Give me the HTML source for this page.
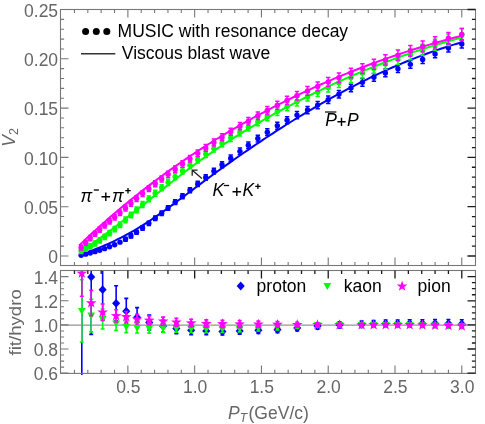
<!DOCTYPE html>
<html><head><meta charset="utf-8"><title>v2 chart</title>
<style>html,body{margin:0;padding:0;background:#fff;}body{width:485px;height:424px;overflow:hidden;position:relative;font-family:"Liberation Sans",sans-serif;}</style>
</head><body>
<svg width="485" height="424" viewBox="0 0 485 424" style="position:absolute;left:0;top:0;filter:blur(0.4px)">
<rect width="485" height="424" fill="#fff"/>
<defs><clipPath id="c1"><rect x="60.5" y="9.5" width="415.0" height="256.0"/></clipPath><clipPath id="c2"><rect x="60.5" y="270.0" width="415.0" height="104.89999999999998"/></clipPath></defs>
<g clip-path="url(#c1)">
<circle cx="81.13" cy="255.30" r="2.7" fill="#0000ff"/>
<circle cx="85.68" cy="254.17" r="2.7" fill="#0000ff"/>
<circle cx="90.28" cy="252.98" r="2.7" fill="#0000ff"/>
<circle cx="95.02" cy="251.67" r="2.7" fill="#0000ff"/>
<circle cx="99.70" cy="250.27" r="2.7" fill="#0000ff"/>
<circle cx="104.64" cy="248.63" r="2.7" fill="#0000ff"/>
<circle cx="109.58" cy="246.80" r="2.7" fill="#0000ff"/>
<circle cx="114.66" cy="244.69" r="2.7" fill="#0000ff"/>
<circle cx="120.00" cy="242.16" r="2.7" fill="#0000ff"/>
<path d="M125.48 237.20V241.21M123.28 237.20h4.40M123.28 241.21h4.40" stroke="#0000ff" stroke-width="1.5" fill="none"/>
<circle cx="125.48" cy="239.20" r="2.7" fill="#0000ff"/>
<path d="M130.95 233.87V237.96M128.75 233.87h4.40M128.75 237.96h4.40" stroke="#0000ff" stroke-width="1.5" fill="none"/>
<circle cx="130.95" cy="235.91" r="2.7" fill="#0000ff"/>
<path d="M136.56 230.15V234.32M134.36 230.15h4.40M134.36 234.32h4.40" stroke="#0000ff" stroke-width="1.5" fill="none"/>
<circle cx="136.56" cy="232.23" r="2.7" fill="#0000ff"/>
<path d="M142.57 225.87V230.13M140.37 225.87h4.40M140.37 230.13h4.40" stroke="#0000ff" stroke-width="1.5" fill="none"/>
<circle cx="142.57" cy="228.00" r="2.7" fill="#0000ff"/>
<path d="M148.85 221.14V225.49M146.65 221.14h4.40M146.65 225.49h4.40" stroke="#0000ff" stroke-width="1.5" fill="none"/>
<circle cx="148.85" cy="223.31" r="2.7" fill="#0000ff"/>
<path d="M155.26 216.09V220.54M153.06 216.09h4.40M153.06 220.54h4.40" stroke="#0000ff" stroke-width="1.5" fill="none"/>
<circle cx="155.26" cy="218.32" r="2.7" fill="#0000ff"/>
<path d="M161.67 210.90V215.45M159.47 210.90h4.40M159.47 215.45h4.40" stroke="#0000ff" stroke-width="1.5" fill="none"/>
<circle cx="161.67" cy="213.17" r="2.7" fill="#0000ff"/>
<path d="M168.08 205.64V210.28M165.88 205.64h4.40M165.88 210.28h4.40" stroke="#0000ff" stroke-width="1.5" fill="none"/>
<circle cx="168.08" cy="207.96" r="2.7" fill="#0000ff"/>
<path d="M175.16 199.81V204.55M172.96 199.81h4.40M172.96 204.55h4.40" stroke="#0000ff" stroke-width="1.5" fill="none"/>
<circle cx="175.16" cy="202.18" r="2.7" fill="#0000ff"/>
<path d="M182.51 193.78V198.63M180.31 193.78h4.40M180.31 198.63h4.40" stroke="#0000ff" stroke-width="1.5" fill="none"/>
<circle cx="182.51" cy="196.21" r="2.7" fill="#0000ff"/>
<path d="M189.99 187.65V192.65M187.79 187.65h4.40M187.79 192.65h4.40" stroke="#0000ff" stroke-width="1.5" fill="none"/>
<circle cx="189.99" cy="190.15" r="2.7" fill="#0000ff"/>
<path d="M197.73 181.29V186.55M195.53 181.29h4.40M195.53 186.55h4.40" stroke="#0000ff" stroke-width="1.5" fill="none"/>
<circle cx="197.73" cy="183.92" r="2.7" fill="#0000ff"/>
<path d="M205.75 174.77V180.30M203.55 174.77h4.40M203.55 180.30h4.40" stroke="#0000ff" stroke-width="1.5" fill="none"/>
<circle cx="205.75" cy="177.53" r="2.7" fill="#0000ff"/>
<path d="M213.89 168.22V174.02M211.69 168.22h4.40M211.69 174.02h4.40" stroke="#0000ff" stroke-width="1.5" fill="none"/>
<circle cx="213.89" cy="171.12" r="2.7" fill="#0000ff"/>
<path d="M222.04 161.76V167.84M219.84 161.76h4.40M219.84 167.84h4.40" stroke="#0000ff" stroke-width="1.5" fill="none"/>
<circle cx="222.04" cy="164.80" r="2.7" fill="#0000ff"/>
<path d="M230.72 155.00V161.37M228.52 155.00h4.40M228.52 161.37h4.40" stroke="#0000ff" stroke-width="1.5" fill="none"/>
<circle cx="230.72" cy="158.19" r="2.7" fill="#0000ff"/>
<path d="M239.94 148.04V154.61M237.74 148.04h4.40M237.74 154.61h4.40" stroke="#0000ff" stroke-width="1.5" fill="none"/>
<circle cx="239.94" cy="151.33" r="2.7" fill="#0000ff"/>
<path d="M248.35 141.90V148.55M246.15 141.90h4.40M246.15 148.55h4.40" stroke="#0000ff" stroke-width="1.5" fill="none"/>
<circle cx="248.35" cy="145.22" r="2.7" fill="#0000ff"/>
<path d="M257.83 135.18V141.93M255.63 135.18h4.40M255.63 141.93h4.40" stroke="#0000ff" stroke-width="1.5" fill="none"/>
<circle cx="257.83" cy="138.56" r="2.7" fill="#0000ff"/>
<path d="M267.32 128.73V135.58M265.12 128.73h4.40M265.12 135.58h4.40" stroke="#0000ff" stroke-width="1.5" fill="none"/>
<circle cx="267.32" cy="132.15" r="2.7" fill="#0000ff"/>
<path d="M277.33 122.33V129.28M275.13 122.33h4.40M275.13 129.28h4.40" stroke="#0000ff" stroke-width="1.5" fill="none"/>
<circle cx="277.33" cy="125.81" r="2.7" fill="#0000ff"/>
<path d="M287.08 116.66V123.72M284.88 116.66h4.40M284.88 123.72h4.40" stroke="#0000ff" stroke-width="1.5" fill="none"/>
<circle cx="287.08" cy="120.19" r="2.7" fill="#0000ff"/>
<path d="M296.97 111.54V118.70M294.77 111.54h4.40M294.77 118.70h4.40" stroke="#0000ff" stroke-width="1.5" fill="none"/>
<circle cx="296.97" cy="115.12" r="2.7" fill="#0000ff"/>
<path d="M307.52 106.40V113.67M305.32 106.40h4.40M305.32 113.67h4.40" stroke="#0000ff" stroke-width="1.5" fill="none"/>
<circle cx="307.52" cy="110.03" r="2.7" fill="#0000ff"/>
<path d="M317.67 101.39V108.77M315.47 101.39h4.40M315.47 108.77h4.40" stroke="#0000ff" stroke-width="1.5" fill="none"/>
<circle cx="317.67" cy="105.08" r="2.7" fill="#0000ff"/>
<path d="M328.22 96.00V103.50M326.02 96.00h4.40M326.02 103.50h4.40" stroke="#0000ff" stroke-width="1.5" fill="none"/>
<circle cx="328.22" cy="99.75" r="2.7" fill="#0000ff"/>
<path d="M338.90 90.43V97.97M336.70 90.43h4.40M336.70 97.97h4.40" stroke="#0000ff" stroke-width="1.5" fill="none"/>
<circle cx="338.90" cy="94.20" r="2.7" fill="#0000ff"/>
<path d="M350.93 84.19V91.78M348.73 84.19h4.40M348.73 91.78h4.40" stroke="#0000ff" stroke-width="1.5" fill="none"/>
<circle cx="350.93" cy="87.99" r="2.7" fill="#0000ff"/>
<path d="M362.41 78.53V86.17M360.21 78.53h4.40M360.21 86.17h4.40" stroke="#0000ff" stroke-width="1.5" fill="none"/>
<circle cx="362.41" cy="82.35" r="2.7" fill="#0000ff"/>
<path d="M373.90 73.44V81.13M371.70 73.44h4.40M371.70 81.13h4.40" stroke="#0000ff" stroke-width="1.5" fill="none"/>
<circle cx="373.90" cy="77.29" r="2.7" fill="#0000ff"/>
<path d="M385.38 69.07V76.82M383.18 69.07h4.40M383.18 76.82h4.40" stroke="#0000ff" stroke-width="1.5" fill="none"/>
<circle cx="385.38" cy="72.94" r="2.7" fill="#0000ff"/>
<path d="M397.94 64.76V72.56M395.74 64.76h4.40M395.74 72.56h4.40" stroke="#0000ff" stroke-width="1.5" fill="none"/>
<circle cx="397.94" cy="68.66" r="2.7" fill="#0000ff"/>
<path d="M410.36 60.44V68.30M408.16 60.44h4.40M408.16 68.30h4.40" stroke="#0000ff" stroke-width="1.5" fill="none"/>
<circle cx="410.36" cy="64.37" r="2.7" fill="#0000ff"/>
<path d="M422.65 55.60V63.51M420.45 55.60h4.40M420.45 63.51h4.40" stroke="#0000ff" stroke-width="1.5" fill="none"/>
<circle cx="422.65" cy="59.56" r="2.7" fill="#0000ff"/>
<path d="M435.07 49.90V57.87M432.87 49.90h4.40M432.87 57.87h4.40" stroke="#0000ff" stroke-width="1.5" fill="none"/>
<circle cx="435.07" cy="53.89" r="2.7" fill="#0000ff"/>
<path d="M448.42 44.00V52.03M446.22 44.00h4.40M446.22 52.03h4.40" stroke="#0000ff" stroke-width="1.5" fill="none"/>
<circle cx="448.42" cy="48.01" r="2.7" fill="#0000ff"/>
<path d="M461.78 39.88V47.96M459.58 39.88h4.40M459.58 47.96h4.40" stroke="#0000ff" stroke-width="1.5" fill="none"/>
<circle cx="461.78" cy="43.92" r="2.7" fill="#0000ff"/>
<path d="M79.13 255.04L82.36 253.97L85.59 252.85L88.82 251.69L92.05 250.49L95.28 249.24L98.50 247.95L101.73 246.61L104.96 245.23L108.19 243.80L111.42 242.32L114.65 240.79L117.88 239.21L121.11 237.58L124.34 235.90L127.57 234.17L130.79 232.38L134.02 230.54L137.25 228.65L140.48 226.69L143.71 224.69L146.94 222.62L150.17 220.51L153.40 218.34L156.63 216.14L159.86 213.89L163.08 211.61L166.31 209.29L169.54 206.95L172.77 204.59L176.00 202.20L179.23 199.80L182.46 197.39L185.69 194.97L188.92 192.54L192.15 190.12L195.37 187.70L198.60 185.29L201.83 182.89L205.06 180.50L208.29 178.12L211.52 175.76L214.75 173.40L217.98 171.06L221.21 168.73L224.44 166.42L227.67 164.11L230.89 161.82L234.12 159.55L237.35 157.28L240.58 155.03L243.81 152.80L247.04 150.57L250.27 148.36L253.50 146.17L256.73 143.99L259.96 141.82L263.18 139.67L266.41 137.53L269.64 135.41L272.87 133.31L276.10 131.21L279.33 129.14L282.56 127.08L285.79 125.03L289.02 123.01L292.25 120.99L295.47 119.00L298.70 117.02L301.93 115.05L305.16 113.11L308.39 111.18L311.62 109.27L314.85 107.37L318.08 105.50L321.31 103.64L324.54 101.79L327.76 99.97L330.99 98.16L334.22 96.38L337.45 94.61L340.68 92.86L343.91 91.13L347.14 89.41L350.37 87.72L353.60 86.05L356.83 84.39L360.05 82.76L363.28 81.14L366.51 79.55L369.74 77.97L372.97 76.42L376.20 74.88L379.43 73.37L382.66 71.88L385.89 70.41L389.12 68.95L392.34 67.53L395.57 66.12L398.80 64.73L402.03 63.37L405.26 62.03L408.49 60.71L411.72 59.41L414.95 58.13L418.18 56.88L421.41 55.65L424.63 54.44L427.86 53.26L431.09 52.10L434.32 50.96L437.55 49.85L440.78 48.76L444.01 47.69L447.24 46.65L450.47 45.64L453.70 44.64L456.92 43.68L460.15 42.73L463.38 41.82" stroke="#0000ff" stroke-width="2.0" fill="none" stroke-linejoin="round"/>
<path d="M81.13 248.53V253.46M78.93 248.53h4.40M78.93 253.46h4.40" stroke="#00ff00" stroke-width="1.5" fill="none"/>
<circle cx="81.13" cy="251.00" r="2.7" fill="#00ff00"/>
<path d="M85.68 246.38V251.37M83.48 246.38h4.40M83.48 251.37h4.40" stroke="#00ff00" stroke-width="1.5" fill="none"/>
<circle cx="85.68" cy="248.87" r="2.7" fill="#00ff00"/>
<path d="M90.28 243.87V248.93M88.08 243.87h4.40M88.08 248.93h4.40" stroke="#00ff00" stroke-width="1.5" fill="none"/>
<circle cx="90.28" cy="246.40" r="2.7" fill="#00ff00"/>
<path d="M95.02 240.99V246.12M92.82 240.99h4.40M92.82 246.12h4.40" stroke="#00ff00" stroke-width="1.5" fill="none"/>
<circle cx="95.02" cy="243.55" r="2.7" fill="#00ff00"/>
<path d="M99.70 237.87V243.07M97.50 237.87h4.40M97.50 243.07h4.40" stroke="#00ff00" stroke-width="1.5" fill="none"/>
<circle cx="99.70" cy="240.47" r="2.7" fill="#00ff00"/>
<path d="M104.64 234.31V239.59M102.44 234.31h4.40M102.44 239.59h4.40" stroke="#00ff00" stroke-width="1.5" fill="none"/>
<circle cx="104.64" cy="236.95" r="2.7" fill="#00ff00"/>
<path d="M109.58 230.52V235.86M107.38 230.52h4.40M107.38 235.86h4.40" stroke="#00ff00" stroke-width="1.5" fill="none"/>
<circle cx="109.58" cy="233.19" r="2.7" fill="#00ff00"/>
<path d="M114.66 226.41V231.83M112.46 226.41h4.40M112.46 231.83h4.40" stroke="#00ff00" stroke-width="1.5" fill="none"/>
<circle cx="114.66" cy="229.12" r="2.7" fill="#00ff00"/>
<path d="M120.00 221.89V227.39M117.80 221.89h4.40M117.80 227.39h4.40" stroke="#00ff00" stroke-width="1.5" fill="none"/>
<circle cx="120.00" cy="224.64" r="2.7" fill="#00ff00"/>
<path d="M125.48 217.10V222.68M123.28 217.10h4.40M123.28 222.68h4.40" stroke="#00ff00" stroke-width="1.5" fill="none"/>
<circle cx="125.48" cy="219.89" r="2.7" fill="#00ff00"/>
<path d="M130.95 212.20V217.85M128.75 212.20h4.40M128.75 217.85h4.40" stroke="#00ff00" stroke-width="1.5" fill="none"/>
<circle cx="130.95" cy="215.02" r="2.7" fill="#00ff00"/>
<path d="M136.56 207.09V212.83M134.36 207.09h4.40M134.36 212.83h4.40" stroke="#00ff00" stroke-width="1.5" fill="none"/>
<circle cx="136.56" cy="209.96" r="2.7" fill="#00ff00"/>
<path d="M142.57 201.60V207.42M140.37 201.60h4.40M140.37 207.42h4.40" stroke="#00ff00" stroke-width="1.5" fill="none"/>
<circle cx="142.57" cy="204.51" r="2.7" fill="#00ff00"/>
<path d="M148.85 195.90V201.81M146.65 195.90h4.40M146.65 201.81h4.40" stroke="#00ff00" stroke-width="1.5" fill="none"/>
<circle cx="148.85" cy="198.85" r="2.7" fill="#00ff00"/>
<path d="M155.26 190.18V196.19M153.06 190.18h4.40M153.06 196.19h4.40" stroke="#00ff00" stroke-width="1.5" fill="none"/>
<circle cx="155.26" cy="193.18" r="2.7" fill="#00ff00"/>
<path d="M161.67 184.63V190.73M159.47 184.63h4.40M159.47 190.73h4.40" stroke="#00ff00" stroke-width="1.5" fill="none"/>
<circle cx="161.67" cy="187.68" r="2.7" fill="#00ff00"/>
<path d="M168.08 179.25V185.44M165.88 179.25h4.40M165.88 185.44h4.40" stroke="#00ff00" stroke-width="1.5" fill="none"/>
<circle cx="168.08" cy="182.34" r="2.7" fill="#00ff00"/>
<path d="M175.16 173.49V179.79M172.96 173.49h4.40M172.96 179.79h4.40" stroke="#00ff00" stroke-width="1.5" fill="none"/>
<circle cx="175.16" cy="176.64" r="2.7" fill="#00ff00"/>
<path d="M182.51 167.72V174.12M180.31 167.72h4.40M180.31 174.12h4.40" stroke="#00ff00" stroke-width="1.5" fill="none"/>
<circle cx="182.51" cy="170.92" r="2.7" fill="#00ff00"/>
<path d="M189.99 162.05V168.56M187.79 162.05h4.40M187.79 168.56h4.40" stroke="#00ff00" stroke-width="1.5" fill="none"/>
<circle cx="189.99" cy="165.31" r="2.7" fill="#00ff00"/>
<path d="M197.73 156.38V163.00M195.53 156.38h4.40M195.53 163.00h4.40" stroke="#00ff00" stroke-width="1.5" fill="none"/>
<circle cx="197.73" cy="159.69" r="2.7" fill="#00ff00"/>
<path d="M205.75 150.72V157.46M203.55 150.72h4.40M203.55 157.46h4.40" stroke="#00ff00" stroke-width="1.5" fill="none"/>
<circle cx="205.75" cy="154.09" r="2.7" fill="#00ff00"/>
<path d="M213.89 145.17V152.02M211.69 145.17h4.40M211.69 152.02h4.40" stroke="#00ff00" stroke-width="1.5" fill="none"/>
<circle cx="213.89" cy="148.60" r="2.7" fill="#00ff00"/>
<path d="M222.04 139.81V146.78M219.84 139.81h4.40M219.84 146.78h4.40" stroke="#00ff00" stroke-width="1.5" fill="none"/>
<circle cx="222.04" cy="143.29" r="2.7" fill="#00ff00"/>
<path d="M230.72 134.29V141.39M228.52 134.29h4.40M228.52 141.39h4.40" stroke="#00ff00" stroke-width="1.5" fill="none"/>
<circle cx="230.72" cy="137.84" r="2.7" fill="#00ff00"/>
<path d="M239.94 128.61V135.90M237.74 128.61h4.40M237.74 135.90h4.40" stroke="#00ff00" stroke-width="1.5" fill="none"/>
<circle cx="239.94" cy="132.26" r="2.7" fill="#00ff00"/>
<path d="M248.35 123.61V131.07M246.15 123.61h4.40M246.15 131.07h4.40" stroke="#00ff00" stroke-width="1.5" fill="none"/>
<circle cx="248.35" cy="127.34" r="2.7" fill="#00ff00"/>
<path d="M257.83 118.15V125.81M255.63 118.15h4.40M255.63 125.81h4.40" stroke="#00ff00" stroke-width="1.5" fill="none"/>
<circle cx="257.83" cy="121.98" r="2.7" fill="#00ff00"/>
<path d="M267.32 112.89V120.74M265.12 112.89h4.40M265.12 120.74h4.40" stroke="#00ff00" stroke-width="1.5" fill="none"/>
<circle cx="267.32" cy="116.82" r="2.7" fill="#00ff00"/>
<path d="M277.33 107.53V115.58M275.13 107.53h4.40M275.13 115.58h4.40" stroke="#00ff00" stroke-width="1.5" fill="none"/>
<circle cx="277.33" cy="111.56" r="2.7" fill="#00ff00"/>
<path d="M287.08 102.49V110.74M284.88 102.49h4.40M284.88 110.74h4.40" stroke="#00ff00" stroke-width="1.5" fill="none"/>
<circle cx="287.08" cy="106.62" r="2.7" fill="#00ff00"/>
<path d="M296.97 97.55V106.01M294.77 97.55h4.40M294.77 106.01h4.40" stroke="#00ff00" stroke-width="1.5" fill="none"/>
<circle cx="296.97" cy="101.78" r="2.7" fill="#00ff00"/>
<path d="M307.52 92.45V101.12M305.32 92.45h4.40M305.32 101.12h4.40" stroke="#00ff00" stroke-width="1.5" fill="none"/>
<circle cx="307.52" cy="96.79" r="2.7" fill="#00ff00"/>
<path d="M317.67 87.70V96.58M315.47 87.70h4.40M315.47 96.58h4.40" stroke="#00ff00" stroke-width="1.5" fill="none"/>
<circle cx="317.67" cy="92.14" r="2.7" fill="#00ff00"/>
<path d="M328.22 82.91V92.00M326.02 82.91h4.40M326.02 92.00h4.40" stroke="#00ff00" stroke-width="1.5" fill="none"/>
<circle cx="328.22" cy="87.46" r="2.7" fill="#00ff00"/>
<path d="M338.90 78.19V87.51M336.70 78.19h4.40M336.70 87.51h4.40" stroke="#00ff00" stroke-width="1.5" fill="none"/>
<circle cx="338.90" cy="82.85" r="2.7" fill="#00ff00"/>
<path d="M350.93 73.03V82.59M348.73 73.03h4.40M348.73 82.59h4.40" stroke="#00ff00" stroke-width="1.5" fill="none"/>
<circle cx="350.93" cy="77.81" r="2.7" fill="#00ff00"/>
<path d="M362.41 68.22V78.01M360.21 68.22h4.40M360.21 78.01h4.40" stroke="#00ff00" stroke-width="1.5" fill="none"/>
<circle cx="362.41" cy="73.11" r="2.7" fill="#00ff00"/>
<path d="M373.90 63.50V73.53M371.70 63.50h4.40M371.70 73.53h4.40" stroke="#00ff00" stroke-width="1.5" fill="none"/>
<circle cx="373.90" cy="68.52" r="2.7" fill="#00ff00"/>
<path d="M385.38 58.87V69.13M383.18 58.87h4.40M383.18 69.13h4.40" stroke="#00ff00" stroke-width="1.5" fill="none"/>
<circle cx="385.38" cy="64.00" r="2.7" fill="#00ff00"/>
<path d="M397.94 53.87V64.39M395.74 53.87h4.40M395.74 64.39h4.40" stroke="#00ff00" stroke-width="1.5" fill="none"/>
<circle cx="397.94" cy="59.13" r="2.7" fill="#00ff00"/>
<path d="M410.36 48.97V59.75M408.16 48.97h4.40M408.16 59.75h4.40" stroke="#00ff00" stroke-width="1.5" fill="none"/>
<circle cx="410.36" cy="54.36" r="2.7" fill="#00ff00"/>
<path d="M422.65 44.13V55.17M420.45 44.13h4.40M420.45 55.17h4.40" stroke="#00ff00" stroke-width="1.5" fill="none"/>
<circle cx="422.65" cy="49.65" r="2.7" fill="#00ff00"/>
<path d="M435.07 39.24V50.53M432.87 39.24h4.40M432.87 50.53h4.40" stroke="#00ff00" stroke-width="1.5" fill="none"/>
<circle cx="435.07" cy="44.89" r="2.7" fill="#00ff00"/>
<path d="M448.42 33.95V45.51M446.22 33.95h4.40M446.22 45.51h4.40" stroke="#00ff00" stroke-width="1.5" fill="none"/>
<circle cx="448.42" cy="39.73" r="2.7" fill="#00ff00"/>
<path d="M461.78 28.58V40.41M459.58 28.58h4.40M459.58 40.41h4.40" stroke="#00ff00" stroke-width="1.5" fill="none"/>
<circle cx="461.78" cy="34.50" r="2.7" fill="#00ff00"/>
<path d="M79.13 252.58L82.36 250.46L85.59 248.30L88.82 246.11L92.05 243.87L95.28 241.59L98.50 239.28L101.73 236.93L104.96 234.56L108.19 232.15L111.42 229.72L114.65 227.27L117.88 224.79L121.11 222.29L124.34 219.77L127.57 217.24L130.79 214.69L134.02 212.13L137.25 209.56L140.48 206.98L143.71 204.40L146.94 201.82L150.17 199.23L153.40 196.64L156.63 194.06L159.86 191.48L163.08 188.91L166.31 186.35L169.54 183.79L172.77 181.26L176.00 178.74L179.23 176.23L182.46 173.75L185.69 171.29L188.92 168.85L192.15 166.44L195.37 164.05L198.60 161.70L201.83 159.38L205.06 157.08L208.29 154.82L211.52 152.58L214.75 150.37L217.98 148.18L221.21 146.03L224.44 143.89L227.67 141.79L230.89 139.71L234.12 137.65L237.35 135.62L240.58 133.61L243.81 131.63L247.04 129.67L250.27 127.73L253.50 125.81L256.73 123.91L259.96 122.04L263.18 120.18L266.41 118.35L269.64 116.53L272.87 114.74L276.10 112.96L279.33 111.20L282.56 109.45L285.79 107.73L289.02 106.02L292.25 104.33L295.47 102.65L298.70 100.99L301.93 99.34L305.16 97.71L308.39 96.09L311.62 94.49L314.85 92.90L318.08 91.33L321.31 89.78L324.54 88.24L327.76 86.71L330.99 85.21L334.22 83.71L337.45 82.24L340.68 80.78L343.91 79.34L347.14 77.91L350.37 76.50L353.60 75.10L356.83 73.72L360.05 72.36L363.28 71.02L366.51 69.69L369.74 68.37L372.97 67.07L376.20 65.79L379.43 64.52L382.66 63.27L385.89 62.04L389.12 60.82L392.34 59.62L395.57 58.43L398.80 57.26L402.03 56.10L405.26 54.96L408.49 53.83L411.72 52.72L414.95 51.63L418.18 50.55L421.41 49.49L424.63 48.44L427.86 47.41L431.09 46.39L434.32 45.39L437.55 44.40L440.78 43.43L444.01 42.47L447.24 41.53L450.47 40.60L453.70 39.69L456.92 38.80L460.15 37.92L463.38 37.05" stroke="#00ff00" stroke-width="2.0" fill="none" stroke-linejoin="round"/>
<path d="M81.13 245.06V249.99M78.93 245.06h4.40M78.93 249.99h4.40" stroke="#ff00ff" stroke-width="1.5" fill="none"/>
<circle cx="81.13" cy="247.53" r="2.7" fill="#ff00ff"/>
<path d="M85.68 240.18V245.17M83.48 240.18h4.40M83.48 245.17h4.40" stroke="#ff00ff" stroke-width="1.5" fill="none"/>
<circle cx="85.68" cy="242.68" r="2.7" fill="#ff00ff"/>
<path d="M90.28 235.59V240.65M88.08 235.59h4.40M88.08 240.65h4.40" stroke="#ff00ff" stroke-width="1.5" fill="none"/>
<circle cx="90.28" cy="238.12" r="2.7" fill="#ff00ff"/>
<path d="M95.02 231.17V236.30M92.82 231.17h4.40M92.82 236.30h4.40" stroke="#ff00ff" stroke-width="1.5" fill="none"/>
<circle cx="95.02" cy="233.74" r="2.7" fill="#ff00ff"/>
<path d="M99.70 227.05V232.25M97.50 227.05h4.40M97.50 232.25h4.40" stroke="#ff00ff" stroke-width="1.5" fill="none"/>
<circle cx="99.70" cy="229.65" r="2.7" fill="#ff00ff"/>
<path d="M104.64 222.85V228.12M102.44 222.85h4.40M102.44 228.12h4.40" stroke="#ff00ff" stroke-width="1.5" fill="none"/>
<circle cx="104.64" cy="225.49" r="2.7" fill="#ff00ff"/>
<path d="M109.58 218.75V224.09M107.38 218.75h4.40M107.38 224.09h4.40" stroke="#ff00ff" stroke-width="1.5" fill="none"/>
<circle cx="109.58" cy="221.42" r="2.7" fill="#ff00ff"/>
<path d="M114.66 214.55V219.97M112.46 214.55h4.40M112.46 219.97h4.40" stroke="#ff00ff" stroke-width="1.5" fill="none"/>
<circle cx="114.66" cy="217.26" r="2.7" fill="#ff00ff"/>
<path d="M120.00 210.08V215.57M117.80 210.08h4.40M117.80 215.57h4.40" stroke="#ff00ff" stroke-width="1.5" fill="none"/>
<circle cx="120.00" cy="212.82" r="2.7" fill="#ff00ff"/>
<path d="M125.48 205.35V210.92M123.28 205.35h4.40M123.28 210.92h4.40" stroke="#ff00ff" stroke-width="1.5" fill="none"/>
<circle cx="125.48" cy="208.13" r="2.7" fill="#ff00ff"/>
<path d="M130.95 200.55V206.20M128.75 200.55h4.40M128.75 206.20h4.40" stroke="#ff00ff" stroke-width="1.5" fill="none"/>
<circle cx="130.95" cy="203.37" r="2.7" fill="#ff00ff"/>
<path d="M136.56 195.67V201.41M134.36 195.67h4.40M134.36 201.41h4.40" stroke="#ff00ff" stroke-width="1.5" fill="none"/>
<circle cx="136.56" cy="198.54" r="2.7" fill="#ff00ff"/>
<path d="M142.57 190.64V196.46M140.37 190.64h4.40M140.37 196.46h4.40" stroke="#ff00ff" stroke-width="1.5" fill="none"/>
<circle cx="142.57" cy="193.55" r="2.7" fill="#ff00ff"/>
<path d="M148.85 185.67V191.59M146.65 185.67h4.40M146.65 191.59h4.40" stroke="#ff00ff" stroke-width="1.5" fill="none"/>
<circle cx="148.85" cy="188.63" r="2.7" fill="#ff00ff"/>
<path d="M155.26 180.80V186.81M153.06 180.80h4.40M153.06 186.81h4.40" stroke="#ff00ff" stroke-width="1.5" fill="none"/>
<circle cx="155.26" cy="183.80" r="2.7" fill="#ff00ff"/>
<path d="M161.67 176.00V182.10M159.47 176.00h4.40M159.47 182.10h4.40" stroke="#ff00ff" stroke-width="1.5" fill="none"/>
<circle cx="161.67" cy="179.05" r="2.7" fill="#ff00ff"/>
<path d="M168.08 171.25V177.44M165.88 171.25h4.40M165.88 177.44h4.40" stroke="#ff00ff" stroke-width="1.5" fill="none"/>
<circle cx="168.08" cy="174.34" r="2.7" fill="#ff00ff"/>
<path d="M175.16 166.06V172.35M172.96 166.06h4.40M172.96 172.35h4.40" stroke="#ff00ff" stroke-width="1.5" fill="none"/>
<circle cx="175.16" cy="169.21" r="2.7" fill="#ff00ff"/>
<path d="M182.51 160.75V167.15M180.31 160.75h4.40M180.31 167.15h4.40" stroke="#ff00ff" stroke-width="1.5" fill="none"/>
<circle cx="182.51" cy="163.95" r="2.7" fill="#ff00ff"/>
<path d="M189.99 155.43V161.94M187.79 155.43h4.40M187.79 161.94h4.40" stroke="#ff00ff" stroke-width="1.5" fill="none"/>
<circle cx="189.99" cy="158.69" r="2.7" fill="#ff00ff"/>
<path d="M197.73 150.02V156.64M195.53 150.02h4.40M195.53 156.64h4.40" stroke="#ff00ff" stroke-width="1.5" fill="none"/>
<circle cx="197.73" cy="153.33" r="2.7" fill="#ff00ff"/>
<path d="M205.75 144.54V151.27M203.55 144.54h4.40M203.55 151.27h4.40" stroke="#ff00ff" stroke-width="1.5" fill="none"/>
<circle cx="205.75" cy="147.90" r="2.7" fill="#ff00ff"/>
<path d="M213.89 139.08V145.93M211.69 139.08h4.40M211.69 145.93h4.40" stroke="#ff00ff" stroke-width="1.5" fill="none"/>
<circle cx="213.89" cy="142.51" r="2.7" fill="#ff00ff"/>
<path d="M222.04 133.75V140.72M219.84 133.75h4.40M219.84 140.72h4.40" stroke="#ff00ff" stroke-width="1.5" fill="none"/>
<circle cx="222.04" cy="137.23" r="2.7" fill="#ff00ff"/>
<path d="M230.72 128.22V135.32M228.52 128.22h4.40M228.52 135.32h4.40" stroke="#ff00ff" stroke-width="1.5" fill="none"/>
<circle cx="230.72" cy="131.77" r="2.7" fill="#ff00ff"/>
<path d="M239.94 122.49V129.78M237.74 122.49h4.40M237.74 129.78h4.40" stroke="#ff00ff" stroke-width="1.5" fill="none"/>
<circle cx="239.94" cy="126.13" r="2.7" fill="#ff00ff"/>
<path d="M248.35 117.42V124.88M246.15 117.42h4.40M246.15 124.88h4.40" stroke="#ff00ff" stroke-width="1.5" fill="none"/>
<circle cx="248.35" cy="121.15" r="2.7" fill="#ff00ff"/>
<path d="M257.83 111.91V119.56M255.63 111.91h4.40M255.63 119.56h4.40" stroke="#ff00ff" stroke-width="1.5" fill="none"/>
<circle cx="257.83" cy="115.74" r="2.7" fill="#ff00ff"/>
<path d="M267.32 106.61V114.46M265.12 106.61h4.40M265.12 114.46h4.40" stroke="#ff00ff" stroke-width="1.5" fill="none"/>
<circle cx="267.32" cy="110.53" r="2.7" fill="#ff00ff"/>
<path d="M277.33 101.26V109.31M275.13 101.26h4.40M275.13 109.31h4.40" stroke="#ff00ff" stroke-width="1.5" fill="none"/>
<circle cx="277.33" cy="105.28" r="2.7" fill="#ff00ff"/>
<path d="M287.08 96.29V104.54M284.88 96.29h4.40M284.88 104.54h4.40" stroke="#ff00ff" stroke-width="1.5" fill="none"/>
<circle cx="287.08" cy="100.41" r="2.7" fill="#ff00ff"/>
<path d="M296.97 91.48V99.94M294.77 91.48h4.40M294.77 99.94h4.40" stroke="#ff00ff" stroke-width="1.5" fill="none"/>
<circle cx="296.97" cy="95.71" r="2.7" fill="#ff00ff"/>
<path d="M307.52 86.58V95.25M305.32 86.58h4.40M305.32 95.25h4.40" stroke="#ff00ff" stroke-width="1.5" fill="none"/>
<circle cx="307.52" cy="90.91" r="2.7" fill="#ff00ff"/>
<path d="M317.67 82.05V90.93M315.47 82.05h4.40M315.47 90.93h4.40" stroke="#ff00ff" stroke-width="1.5" fill="none"/>
<circle cx="317.67" cy="86.49" r="2.7" fill="#ff00ff"/>
<path d="M328.22 77.52V86.62M326.02 77.52h4.40M326.02 86.62h4.40" stroke="#ff00ff" stroke-width="1.5" fill="none"/>
<circle cx="328.22" cy="82.07" r="2.7" fill="#ff00ff"/>
<path d="M338.90 73.09V82.40M336.70 73.09h4.40M336.70 82.40h4.40" stroke="#ff00ff" stroke-width="1.5" fill="none"/>
<circle cx="338.90" cy="77.75" r="2.7" fill="#ff00ff"/>
<path d="M350.93 68.25V77.81M348.73 68.25h4.40M348.73 77.81h4.40" stroke="#ff00ff" stroke-width="1.5" fill="none"/>
<circle cx="350.93" cy="73.03" r="2.7" fill="#ff00ff"/>
<path d="M362.41 63.72V73.52M360.21 63.72h4.40M360.21 73.52h4.40" stroke="#ff00ff" stroke-width="1.5" fill="none"/>
<circle cx="362.41" cy="68.62" r="2.7" fill="#ff00ff"/>
<path d="M373.90 59.26V69.29M371.70 59.26h4.40M371.70 69.29h4.40" stroke="#ff00ff" stroke-width="1.5" fill="none"/>
<circle cx="373.90" cy="64.28" r="2.7" fill="#ff00ff"/>
<path d="M385.38 54.84V65.11M383.18 54.84h4.40M383.18 65.11h4.40" stroke="#ff00ff" stroke-width="1.5" fill="none"/>
<circle cx="385.38" cy="59.97" r="2.7" fill="#ff00ff"/>
<path d="M397.94 50.08V60.60M395.74 50.08h4.40M395.74 60.60h4.40" stroke="#ff00ff" stroke-width="1.5" fill="none"/>
<circle cx="397.94" cy="55.34" r="2.7" fill="#ff00ff"/>
<path d="M410.36 45.48V56.26M408.16 45.48h4.40M408.16 56.26h4.40" stroke="#ff00ff" stroke-width="1.5" fill="none"/>
<circle cx="410.36" cy="50.87" r="2.7" fill="#ff00ff"/>
<path d="M422.65 41.08V52.11M420.45 41.08h4.40M420.45 52.11h4.40" stroke="#ff00ff" stroke-width="1.5" fill="none"/>
<circle cx="422.65" cy="46.59" r="2.7" fill="#ff00ff"/>
<path d="M435.07 36.82V48.11M432.87 36.82h4.40M432.87 48.11h4.40" stroke="#ff00ff" stroke-width="1.5" fill="none"/>
<circle cx="435.07" cy="42.46" r="2.7" fill="#ff00ff"/>
<path d="M448.42 32.51V44.06M446.22 32.51h4.40M446.22 44.06h4.40" stroke="#ff00ff" stroke-width="1.5" fill="none"/>
<circle cx="448.42" cy="38.29" r="2.7" fill="#ff00ff"/>
<path d="M461.78 28.51V40.35M459.58 28.51h4.40M459.58 40.35h4.40" stroke="#ff00ff" stroke-width="1.5" fill="none"/>
<circle cx="461.78" cy="34.43" r="2.7" fill="#ff00ff"/>
<path d="M79.13 245.46L82.36 242.38L85.59 239.34L88.82 236.32L92.05 233.34L95.28 230.38L98.50 227.46L101.73 224.57L104.96 221.70L108.19 218.87L111.42 216.06L114.65 213.29L117.88 210.54L121.11 207.83L124.34 205.14L127.57 202.47L130.79 199.84L134.02 197.23L137.25 194.66L140.48 192.10L143.71 189.58L146.94 187.08L150.17 184.61L153.40 182.16L156.63 179.74L159.86 177.35L163.08 174.98L166.31 172.63L169.54 170.31L172.77 168.01L176.00 165.74L179.23 163.49L182.46 161.27L185.69 159.07L188.92 156.89L192.15 154.73L195.37 152.60L198.60 150.49L201.83 148.40L205.06 146.33L208.29 144.28L211.52 142.26L214.75 140.25L217.98 138.27L221.21 136.31L224.44 134.36L227.67 132.44L230.89 130.53L234.12 128.65L237.35 126.78L240.58 124.94L243.81 123.11L247.04 121.30L250.27 119.51L253.50 117.73L256.73 115.97L259.96 114.23L263.18 112.51L266.41 110.80L269.64 109.11L272.87 107.44L276.10 105.78L279.33 104.14L282.56 102.52L285.79 100.91L289.02 99.32L292.25 97.74L295.47 96.18L298.70 94.64L301.93 93.11L305.16 91.60L308.39 90.10L311.62 88.62L314.85 87.16L318.08 85.71L321.31 84.27L324.54 82.85L327.76 81.45L330.99 80.06L334.22 78.69L337.45 77.33L340.68 75.98L343.91 74.66L347.14 73.34L350.37 72.04L353.60 70.76L356.83 69.49L360.05 68.23L363.28 66.99L366.51 65.77L369.74 64.55L372.97 63.36L376.20 62.17L379.43 61.00L382.66 59.85L385.89 58.70L389.12 57.58L392.34 56.46L395.57 55.36L398.80 54.27L402.03 53.20L405.26 52.14L408.49 51.09L411.72 50.06L414.95 49.04L418.18 48.03L421.41 47.04L424.63 46.06L427.86 45.09L431.09 44.13L434.32 43.19L437.55 42.26L440.78 41.34L444.01 40.44L447.24 39.55L450.47 38.67L453.70 37.80L456.92 36.94L460.15 36.10L463.38 35.27" stroke="#ff00ff" stroke-width="2.0" fill="none" stroke-linejoin="round"/>
</g>
<path d="M60.5 325.1H475.5" stroke="#7a7a7a" stroke-width="1.0"/>
<g clip-path="url(#c2)">
<path d="M81.80 73.68V435.48M79.80 73.68h4.00M79.80 435.48h4.00" stroke="#0000ff" stroke-width="1.6" fill="none"/>
<path d="M81.80 250.18L85.85 254.58L81.80 258.98L77.75 254.58Z" fill="#0000ff"/>
<path d="M91.22 219.52V334.38M89.22 219.52h4.00M89.22 334.38h4.00" stroke="#0000ff" stroke-width="1.6" fill="none"/>
<path d="M91.22 272.55L95.27 276.95L91.22 281.35L87.17 276.95Z" fill="#0000ff"/>
<path d="M102.64 259.39V320.02M100.64 259.39h4.00M100.64 320.02h4.00" stroke="#0000ff" stroke-width="1.6" fill="none"/>
<path d="M102.64 285.31L106.69 289.71L102.64 294.11L98.59 289.71Z" fill="#0000ff"/>
<path d="M116.13 285.71V320.90M114.13 285.71h4.00M114.13 320.90h4.00" stroke="#0000ff" stroke-width="1.6" fill="none"/>
<path d="M116.13 298.90L120.17 303.30L116.13 307.70L112.08 303.30Z" fill="#0000ff"/>
<path d="M126.28 298.39V324.04M124.28 298.39h4.00M124.28 324.04h4.00" stroke="#0000ff" stroke-width="1.6" fill="none"/>
<path d="M126.28 306.82L130.33 311.22L126.28 315.62L122.23 311.22Z" fill="#0000ff"/>
<path d="M137.10 307.63V327.09M135.10 307.63h4.00M135.10 327.09h4.00" stroke="#0000ff" stroke-width="1.6" fill="none"/>
<path d="M137.10 312.96L141.14 317.36L137.10 321.76L133.05 317.36Z" fill="#0000ff"/>
<path d="M149.25 314.93V330.04M147.25 314.93h4.00M147.25 330.04h4.00" stroke="#0000ff" stroke-width="1.6" fill="none"/>
<path d="M149.25 318.09L153.30 322.49L149.25 326.89L145.20 322.49Z" fill="#0000ff"/>
<path d="M163.14 320.23V332.21M161.14 320.23h4.00M161.14 332.21h4.00" stroke="#0000ff" stroke-width="1.6" fill="none"/>
<path d="M163.14 321.82L167.19 326.22L163.14 330.62L159.09 326.22Z" fill="#0000ff"/>
<path d="M176.36 323.56V333.60M174.36 323.56h4.00M174.36 333.60h4.00" stroke="#0000ff" stroke-width="1.6" fill="none"/>
<path d="M176.36 324.18L180.41 328.58L176.36 332.98L172.31 328.58Z" fill="#0000ff"/>
<path d="M191.19 326.06V334.65M189.19 326.06h4.00M189.19 334.65h4.00" stroke="#0000ff" stroke-width="1.6" fill="none"/>
<path d="M191.19 325.96L195.24 330.36L191.19 334.76L187.14 330.36Z" fill="#0000ff"/>
<path d="M206.28 327.12V334.71M204.28 327.12h4.00M204.28 334.71h4.00" stroke="#0000ff" stroke-width="1.6" fill="none"/>
<path d="M206.28 326.52L210.33 330.92L206.28 335.32L202.23 330.92Z" fill="#0000ff"/>
<path d="M222.44 328.09V334.98M220.44 328.09h4.00M220.44 334.98h4.00" stroke="#0000ff" stroke-width="1.6" fill="none"/>
<path d="M222.44 327.13L226.49 331.53L222.44 335.93L218.39 331.53Z" fill="#0000ff"/>
<path d="M239.67 327.74V334.15M237.67 327.74h4.00M237.67 334.15h4.00" stroke="#0000ff" stroke-width="1.6" fill="none"/>
<path d="M239.67 326.54L243.72 330.94L239.67 335.34L235.62 330.94Z" fill="#0000ff"/>
<path d="M258.37 327.28V333.40M256.37 327.28h4.00M256.37 333.40h4.00" stroke="#0000ff" stroke-width="1.6" fill="none"/>
<path d="M258.37 325.94L262.42 330.34L258.37 334.74L254.32 330.34Z" fill="#0000ff"/>
<path d="M277.47 326.74V332.71M275.47 326.74h4.00M275.47 332.71h4.00" stroke="#0000ff" stroke-width="1.6" fill="none"/>
<path d="M277.47 325.32L281.52 329.72L277.47 334.12L273.42 329.72Z" fill="#0000ff"/>
<path d="M297.23 324.97V330.91M295.23 324.97h4.00M295.23 330.91h4.00" stroke="#0000ff" stroke-width="1.6" fill="none"/>
<path d="M297.23 323.54L301.28 327.94L297.23 332.34L293.19 327.94Z" fill="#0000ff"/>
<path d="M317.54 323.09V329.12M315.54 323.09h4.00M315.54 329.12h4.00" stroke="#0000ff" stroke-width="1.6" fill="none"/>
<path d="M317.54 321.71L321.58 326.11L317.54 330.51L313.49 326.11Z" fill="#0000ff"/>
<path d="M339.57 321.77V327.98M337.57 321.77h4.00M337.57 327.98h4.00" stroke="#0000ff" stroke-width="1.6" fill="none"/>
<path d="M339.57 320.48L343.62 324.88L339.57 329.28L335.52 324.88Z" fill="#0000ff"/>
<path d="M361.61 321.06V327.53M359.61 321.06h4.00M359.61 327.53h4.00" stroke="#0000ff" stroke-width="1.6" fill="none"/>
<path d="M361.61 319.90L365.66 324.30L361.61 328.70L357.56 324.30Z" fill="#0000ff"/>
<path d="M373.63 320.46V327.11M371.63 320.46h4.00M371.63 327.11h4.00" stroke="#0000ff" stroke-width="1.6" fill="none"/>
<path d="M373.63 319.38L377.68 323.78L373.63 328.18L369.58 323.78Z" fill="#0000ff"/>
<path d="M385.65 320.04V326.87M383.65 320.04h4.00M383.65 326.87h4.00" stroke="#0000ff" stroke-width="1.6" fill="none"/>
<path d="M385.65 319.05L389.70 323.45L385.65 327.85L381.60 323.45Z" fill="#0000ff"/>
<path d="M397.67 319.93V326.97M395.67 319.93h4.00M395.67 326.97h4.00" stroke="#0000ff" stroke-width="1.6" fill="none"/>
<path d="M397.67 319.05L401.72 323.45L397.67 327.85L393.62 323.45Z" fill="#0000ff"/>
<path d="M409.69 319.82V327.08M407.69 319.82h4.00M407.69 327.08h4.00" stroke="#0000ff" stroke-width="1.6" fill="none"/>
<path d="M409.69 319.05L413.74 323.45L409.69 327.85L405.64 323.45Z" fill="#0000ff"/>
<path d="M422.38 319.70V327.21M420.38 319.70h4.00M420.38 327.21h4.00" stroke="#0000ff" stroke-width="1.6" fill="none"/>
<path d="M422.38 319.05L426.43 323.45L422.38 327.85L418.33 323.45Z" fill="#0000ff"/>
<path d="M435.07 319.56V327.34M433.07 319.56h4.00M433.07 327.34h4.00" stroke="#0000ff" stroke-width="1.6" fill="none"/>
<path d="M435.07 319.05L439.12 323.45L435.07 327.85L431.02 323.45Z" fill="#0000ff"/>
<path d="M448.42 319.56V327.64M446.42 319.56h4.00M446.42 327.64h4.00" stroke="#0000ff" stroke-width="1.6" fill="none"/>
<path d="M448.42 319.20L452.47 323.60L448.42 328.00L444.38 323.60Z" fill="#0000ff"/>
<path d="M461.78 319.74V328.13M459.78 319.74h4.00M459.78 328.13h4.00" stroke="#0000ff" stroke-width="1.6" fill="none"/>
<path d="M461.78 319.54L465.83 323.94L461.78 328.34L457.73 323.94Z" fill="#0000ff"/>
<path d="M81.80 279.70V341.96M79.80 279.70h4.00M79.80 341.96h4.00" stroke="#00ff00" stroke-width="1.6" fill="none"/>
<path d="M77.90 307.90H85.70L81.80 314.73Z" fill="#00ff00"/>
<path d="M91.22 299.24V331.83M89.22 299.24h4.00M89.22 331.83h4.00" stroke="#00ff00" stroke-width="1.6" fill="none"/>
<path d="M87.32 312.61H95.12L91.22 319.43Z" fill="#00ff00"/>
<path d="M102.64 309.04V329.03M100.64 309.04h4.00M100.64 329.03h4.00" stroke="#00ff00" stroke-width="1.6" fill="none"/>
<path d="M98.74 316.11H106.54L102.64 322.93Z" fill="#00ff00"/>
<path d="M116.13 316.55V330.53M114.13 316.55h4.00M114.13 330.53h4.00" stroke="#00ff00" stroke-width="1.6" fill="none"/>
<path d="M112.23 320.62H120.03L116.13 327.44Z" fill="#00ff00"/>
<path d="M126.28 320.94V332.64M124.28 320.94h4.00M124.28 332.64h4.00" stroke="#00ff00" stroke-width="1.6" fill="none"/>
<path d="M122.38 323.86H130.18L126.28 330.69Z" fill="#00ff00"/>
<path d="M137.10 322.80V333.01M135.10 322.80h4.00M135.10 333.01h4.00" stroke="#00ff00" stroke-width="1.6" fill="none"/>
<path d="M133.20 324.98H141.00L137.10 331.81Z" fill="#00ff00"/>
<path d="M149.25 323.95V333.08M147.25 323.95h4.00M147.25 333.08h4.00" stroke="#00ff00" stroke-width="1.6" fill="none"/>
<path d="M145.35 325.59H153.15L149.25 332.42Z" fill="#00ff00"/>
<path d="M163.14 324.10V332.45M161.14 324.10h4.00M161.14 332.45h4.00" stroke="#00ff00" stroke-width="1.6" fill="none"/>
<path d="M159.24 325.35H167.04L163.14 332.18Z" fill="#00ff00"/>
<path d="M176.36 324.36V332.20M174.36 324.36h4.00M174.36 332.20h4.00" stroke="#00ff00" stroke-width="1.6" fill="none"/>
<path d="M172.46 325.35H180.26L176.36 332.18Z" fill="#00ff00"/>
<path d="M191.19 325.05V332.50M189.19 325.05h4.00M189.19 332.50h4.00" stroke="#00ff00" stroke-width="1.6" fill="none"/>
<path d="M187.29 325.85H195.09L191.19 332.67Z" fill="#00ff00"/>
<path d="M206.28 325.53V332.71M204.28 325.53h4.00M204.28 332.71h4.00" stroke="#00ff00" stroke-width="1.6" fill="none"/>
<path d="M202.38 326.20H210.18L206.28 333.02Z" fill="#00ff00"/>
<path d="M222.44 325.50V332.45M220.44 325.50h4.00M220.44 332.45h4.00" stroke="#00ff00" stroke-width="1.6" fill="none"/>
<path d="M218.54 326.05H226.34L222.44 332.87Z" fill="#00ff00"/>
<path d="M239.67 325.24V331.89M237.67 325.24h4.00M237.67 331.89h4.00" stroke="#00ff00" stroke-width="1.6" fill="none"/>
<path d="M235.77 325.64H243.57L239.67 332.47Z" fill="#00ff00"/>
<path d="M258.37 325.02V330.99M256.37 325.02h4.00M256.37 330.99h4.00" stroke="#00ff00" stroke-width="1.6" fill="none"/>
<path d="M254.47 325.08H262.27L258.37 331.91Z" fill="#00ff00"/>
<path d="M277.47 324.54V329.87M275.47 324.54h4.00M275.47 329.87h4.00" stroke="#00ff00" stroke-width="1.6" fill="none"/>
<path d="M273.57 324.28H281.37L277.47 331.11Z" fill="#00ff00"/>
<path d="M297.23 323.68V328.36M295.23 323.68h4.00M295.23 328.36h4.00" stroke="#00ff00" stroke-width="1.6" fill="none"/>
<path d="M293.33 323.09H301.13L297.23 329.92Z" fill="#00ff00"/>
<path d="M317.54 323.05V327.08M315.54 323.05h4.00M315.54 327.08h4.00" stroke="#00ff00" stroke-width="1.6" fill="none"/>
<path d="M313.64 322.14H321.44L317.54 328.96Z" fill="#00ff00"/>
<path d="M339.57 323.22V326.58M337.57 323.22h4.00M337.57 326.58h4.00" stroke="#00ff00" stroke-width="1.6" fill="none"/>
<path d="M335.67 321.97H343.47L339.57 328.80Z" fill="#00ff00"/>
<path d="M361.61 323.56V326.24M359.61 323.56h4.00M359.61 326.24h4.00" stroke="#00ff00" stroke-width="1.6" fill="none"/>
<path d="M357.71 321.97H365.51L361.61 328.80Z" fill="#00ff00"/>
<path d="M373.63 323.57V326.23M371.63 323.57h4.00M371.63 326.23h4.00" stroke="#00ff00" stroke-width="1.6" fill="none"/>
<path d="M369.73 321.97H377.53L373.63 328.80Z" fill="#00ff00"/>
<path d="M385.65 323.58V326.22M383.65 323.58h4.00M383.65 326.22h4.00" stroke="#00ff00" stroke-width="1.6" fill="none"/>
<path d="M381.75 321.97H389.55L385.65 328.80Z" fill="#00ff00"/>
<path d="M397.67 323.59V326.22M395.67 323.59h4.00M395.67 326.22h4.00" stroke="#00ff00" stroke-width="1.6" fill="none"/>
<path d="M393.77 321.98H401.57L397.67 328.80Z" fill="#00ff00"/>
<path d="M409.69 323.68V326.29M407.69 323.68h4.00M407.69 326.29h4.00" stroke="#00ff00" stroke-width="1.6" fill="none"/>
<path d="M405.79 322.06H413.59L409.69 328.88Z" fill="#00ff00"/>
<path d="M422.38 323.86V326.46M420.38 323.86h4.00M420.38 326.46h4.00" stroke="#00ff00" stroke-width="1.6" fill="none"/>
<path d="M418.48 322.24H426.28L422.38 329.06Z" fill="#00ff00"/>
<path d="M435.07 324.13V326.71M433.07 324.13h4.00M433.07 326.71h4.00" stroke="#00ff00" stroke-width="1.6" fill="none"/>
<path d="M431.17 322.50H438.97L435.07 329.32Z" fill="#00ff00"/>
<path d="M448.42 324.46V327.04M446.42 324.46h4.00M446.42 327.04h4.00" stroke="#00ff00" stroke-width="1.6" fill="none"/>
<path d="M444.52 322.82H452.32L448.42 329.65Z" fill="#00ff00"/>
<path d="M461.78 324.82V327.39M459.78 324.82h4.00M459.78 327.39h4.00" stroke="#00ff00" stroke-width="1.6" fill="none"/>
<path d="M457.88 323.18H465.68L461.78 330.01Z" fill="#00ff00"/>
<path d="M81.80 250.42V296.32M79.80 250.42h4.00M79.80 296.32h4.00" stroke="#ff00ff" stroke-width="1.6" fill="none"/>
<path d="M81.80 267.77L83.12 271.55L87.13 271.64L83.94 274.07L85.09 277.90L81.80 275.62L78.51 277.90L79.66 274.07L76.48 271.64L80.48 271.55Z" fill="#ff00ff"/>
<path d="M91.22 290.36V315.61M89.22 290.36h4.00M89.22 315.61h4.00" stroke="#ff00ff" stroke-width="1.6" fill="none"/>
<path d="M91.22 297.38L92.54 301.16L96.54 301.25L93.36 303.68L94.51 307.51L91.22 305.23L87.93 307.51L89.08 303.68L85.89 301.25L89.90 301.16Z" fill="#ff00ff"/>
<path d="M102.64 304.05V320.53M100.64 304.05h4.00M100.64 320.53h4.00" stroke="#ff00ff" stroke-width="1.6" fill="none"/>
<path d="M102.64 306.69L103.96 310.47L107.96 310.56L104.78 312.99L105.93 316.82L102.64 314.54L99.35 316.82L100.50 312.99L97.31 310.56L101.31 310.47Z" fill="#ff00ff"/>
<path d="M116.13 309.75V322.04M114.13 309.75h4.00M114.13 322.04h4.00" stroke="#ff00ff" stroke-width="1.6" fill="none"/>
<path d="M116.13 310.29L117.45 314.07L121.45 314.16L118.27 316.59L119.42 320.42L116.13 318.14L112.84 320.42L113.99 316.59L110.80 314.16L114.80 314.07Z" fill="#ff00ff"/>
<path d="M126.28 311.55V322.26M124.28 311.55h4.00M124.28 322.26h4.00" stroke="#ff00ff" stroke-width="1.6" fill="none"/>
<path d="M126.28 311.30L127.60 315.08L131.60 315.17L128.42 317.60L129.57 321.43L126.28 319.15L122.99 321.43L124.14 317.60L120.95 315.17L124.95 315.08Z" fill="#ff00ff"/>
<path d="M137.10 314.38V324.04M135.10 314.38h4.00M135.10 324.04h4.00" stroke="#ff00ff" stroke-width="1.6" fill="none"/>
<path d="M137.10 313.61L138.42 317.39L142.42 317.48L139.24 319.91L140.39 323.74L137.10 321.46L133.80 323.74L134.96 319.91L131.77 317.48L135.77 317.39Z" fill="#ff00ff"/>
<path d="M149.25 315.98V324.89M147.25 315.98h4.00M147.25 324.89h4.00" stroke="#ff00ff" stroke-width="1.6" fill="none"/>
<path d="M149.25 314.84L150.57 318.62L154.58 318.71L151.39 321.13L152.54 324.97L149.25 322.69L145.96 324.97L147.11 321.13L143.92 318.71L147.93 318.62Z" fill="#ff00ff"/>
<path d="M163.14 317.14V325.50M161.14 317.14h4.00M161.14 325.50h4.00" stroke="#ff00ff" stroke-width="1.6" fill="none"/>
<path d="M163.14 315.72L164.46 319.50L168.47 319.59L165.28 322.01L166.43 325.85L163.14 323.57L159.85 325.85L161.00 322.01L157.81 319.59L161.82 319.50Z" fill="#ff00ff"/>
<path d="M176.36 318.26V326.28M174.36 318.26h4.00M174.36 326.28h4.00" stroke="#ff00ff" stroke-width="1.6" fill="none"/>
<path d="M176.36 316.67L177.68 320.45L181.69 320.54L178.50 322.97L179.65 326.80L176.36 324.52L173.07 326.80L174.22 322.97L171.04 320.54L175.04 320.45Z" fill="#ff00ff"/>
<path d="M191.19 319.24V326.99M189.19 319.24h4.00M189.19 326.99h4.00" stroke="#ff00ff" stroke-width="1.6" fill="none"/>
<path d="M191.19 317.52L192.51 321.30L196.51 321.38L193.33 323.81L194.48 327.65L191.19 325.37L187.90 327.65L189.05 323.81L185.86 321.38L189.86 321.30Z" fill="#ff00ff"/>
<path d="M206.28 319.91V327.46M204.28 319.91h4.00M204.28 327.46h4.00" stroke="#ff00ff" stroke-width="1.6" fill="none"/>
<path d="M206.28 318.09L207.60 321.87L211.61 321.96L208.42 324.38L209.57 328.22L206.28 325.94L202.99 328.22L204.14 324.38L200.95 321.96L204.96 321.87Z" fill="#ff00ff"/>
<path d="M222.44 320.24V327.63M220.44 320.24h4.00M220.44 327.63h4.00" stroke="#ff00ff" stroke-width="1.6" fill="none"/>
<path d="M222.44 318.33L223.76 322.11L227.77 322.20L224.58 324.63L225.73 328.46L222.44 326.18L219.15 328.46L220.30 324.63L217.11 322.20L221.12 322.11Z" fill="#ff00ff"/>
<path d="M239.67 320.55V327.66M237.67 320.55h4.00M237.67 327.66h4.00" stroke="#ff00ff" stroke-width="1.6" fill="none"/>
<path d="M239.67 318.51L240.99 322.29L245.00 322.38L241.81 324.80L242.96 328.64L239.67 326.36L236.38 328.64L237.53 324.80L234.34 322.38L238.35 322.29Z" fill="#ff00ff"/>
<path d="M258.37 321.08V327.46M256.37 321.08h4.00M256.37 327.46h4.00" stroke="#ff00ff" stroke-width="1.6" fill="none"/>
<path d="M258.37 318.67L259.69 322.45L263.69 322.54L260.51 324.96L261.66 328.80L258.37 326.52L255.08 328.80L256.23 324.96L253.04 322.54L257.05 322.45Z" fill="#ff00ff"/>
<path d="M277.47 321.65V327.30M275.47 321.65h4.00M275.47 327.30h4.00" stroke="#ff00ff" stroke-width="1.6" fill="none"/>
<path d="M277.47 318.88L278.79 322.66L282.79 322.75L279.61 325.17L280.76 329.01L277.47 326.73L274.18 329.01L275.33 325.17L272.14 322.75L276.14 322.66Z" fill="#ff00ff"/>
<path d="M297.23 322.25V327.17M295.23 322.25h4.00M295.23 327.17h4.00" stroke="#ff00ff" stroke-width="1.6" fill="none"/>
<path d="M297.23 319.11L298.56 322.89L302.56 322.98L299.37 325.40L300.53 329.24L297.23 326.96L293.94 329.24L295.09 325.40L291.91 322.98L295.91 322.89Z" fill="#ff00ff"/>
<path d="M317.54 322.79V326.96M315.54 322.79h4.00M315.54 326.96h4.00" stroke="#ff00ff" stroke-width="1.6" fill="none"/>
<path d="M317.54 319.27L318.86 323.05L322.86 323.14L319.68 325.57L320.83 329.40L317.54 327.12L314.24 329.40L315.40 325.57L312.21 323.14L316.21 323.05Z" fill="#ff00ff"/>
<path d="M339.57 323.21V326.59M337.57 323.21h4.00M337.57 326.59h4.00" stroke="#ff00ff" stroke-width="1.6" fill="none"/>
<path d="M339.57 319.30L340.90 323.08L344.90 323.17L341.71 325.60L342.86 329.43L339.57 327.15L336.28 329.43L337.43 325.60L334.25 323.17L338.25 323.08Z" fill="#ff00ff"/>
<path d="M361.61 323.60V326.20M359.61 323.60h4.00M359.61 326.20h4.00" stroke="#ff00ff" stroke-width="1.6" fill="none"/>
<path d="M361.61 319.30L362.93 323.08L366.94 323.17L363.75 325.60L364.90 329.43L361.61 327.15L358.32 329.43L359.47 325.60L356.28 323.17L360.29 323.08Z" fill="#ff00ff"/>
<path d="M373.63 323.61V326.19M371.63 323.61h4.00M371.63 326.19h4.00" stroke="#ff00ff" stroke-width="1.6" fill="none"/>
<path d="M373.63 319.30L374.95 323.08L378.96 323.17L375.77 325.60L376.92 329.43L373.63 327.15L370.34 329.43L371.49 325.60L368.30 323.17L372.31 323.08Z" fill="#ff00ff"/>
<path d="M385.65 323.61V326.19M383.65 323.61h4.00M383.65 326.19h4.00" stroke="#ff00ff" stroke-width="1.6" fill="none"/>
<path d="M385.65 319.30L386.97 323.08L390.98 323.17L387.79 325.60L388.94 329.43L385.65 327.15L382.36 329.43L383.51 325.60L380.32 323.17L384.33 323.08Z" fill="#ff00ff"/>
<path d="M397.67 323.62V326.18M395.67 323.62h4.00M395.67 326.18h4.00" stroke="#ff00ff" stroke-width="1.6" fill="none"/>
<path d="M397.67 319.30L398.99 323.08L403.00 323.17L399.81 325.60L400.96 329.43L397.67 327.15L394.38 329.43L395.53 325.60L392.35 323.17L396.35 323.08Z" fill="#ff00ff"/>
<path d="M409.69 323.71V326.26M407.69 323.71h4.00M407.69 326.26h4.00" stroke="#ff00ff" stroke-width="1.6" fill="none"/>
<path d="M409.69 319.38L411.01 323.16L415.02 323.25L411.83 325.68L412.98 329.51L409.69 327.23L406.40 329.51L407.55 325.68L404.37 323.25L408.37 323.16Z" fill="#ff00ff"/>
<path d="M422.38 323.89V326.43M420.38 323.89h4.00M420.38 326.43h4.00" stroke="#ff00ff" stroke-width="1.6" fill="none"/>
<path d="M422.38 319.56L423.70 323.34L427.71 323.43L424.52 325.86L425.67 329.69L422.38 327.41L419.09 329.69L420.24 325.86L417.05 323.43L421.06 323.34Z" fill="#ff00ff"/>
<path d="M435.07 324.15V326.69M433.07 324.15h4.00M433.07 326.69h4.00" stroke="#ff00ff" stroke-width="1.6" fill="none"/>
<path d="M435.07 319.82L436.39 323.60L440.39 323.69L437.21 326.12L438.36 329.95L435.07 327.67L431.78 329.95L432.93 326.12L429.74 323.69L433.75 323.60Z" fill="#ff00ff"/>
<path d="M448.42 324.49V327.01M446.42 324.49h4.00M446.42 327.01h4.00" stroke="#ff00ff" stroke-width="1.6" fill="none"/>
<path d="M448.42 320.15L449.75 323.93L453.75 324.02L450.56 326.44L451.72 330.28L448.42 328.00L445.13 330.28L446.28 326.44L443.10 324.02L447.10 323.93Z" fill="#ff00ff"/>
<path d="M461.78 324.85V327.36M459.78 324.85h4.00M459.78 327.36h4.00" stroke="#ff00ff" stroke-width="1.6" fill="none"/>
<path d="M461.78 320.51L463.10 324.29L467.11 324.38L463.92 326.80L465.07 330.64L461.78 328.36L458.49 330.64L459.64 326.80L456.45 324.38L460.46 324.29Z" fill="#ff00ff"/>
</g>
<rect x="60.5" y="9.5" width="415.0" height="256.0" fill="none" stroke="#777777" stroke-width="1.1"/>
<rect x="60.5" y="270.5" width="415.0" height="102.89999999999998" fill="none" stroke="#777777" stroke-width="1.1"/>
<path d="M74.46 9.5v3.6M74.46 265.5v-3.6M74.46 373.4v-3.6M87.81 9.5v3.6M87.81 265.5v-3.6M87.81 373.4v-3.6M101.17 9.5v3.6M101.17 265.5v-3.6M101.17 373.4v-3.6M114.52 9.5v3.6M114.52 265.5v-3.6M114.52 373.4v-3.6M127.88 9.5v8.0M127.88 265.5v-8.0M127.88 373.4v-8.0M141.24 9.5v3.6M141.24 265.5v-3.6M141.24 373.4v-3.6M154.59 9.5v3.6M154.59 265.5v-3.6M154.59 373.4v-3.6M167.95 9.5v3.6M167.95 265.5v-3.6M167.95 373.4v-3.6M181.30 9.5v3.6M181.30 265.5v-3.6M181.30 373.4v-3.6M194.66 9.5v8.0M194.66 265.5v-8.0M194.66 373.4v-8.0M208.02 9.5v3.6M208.02 265.5v-3.6M208.02 373.4v-3.6M221.37 9.5v3.6M221.37 265.5v-3.6M221.37 373.4v-3.6M234.73 9.5v3.6M234.73 265.5v-3.6M234.73 373.4v-3.6M248.08 9.5v3.6M248.08 265.5v-3.6M248.08 373.4v-3.6M261.44 9.5v8.0M261.44 265.5v-8.0M261.44 373.4v-8.0M274.80 9.5v3.6M274.80 265.5v-3.6M274.80 373.4v-3.6M288.15 9.5v3.6M288.15 265.5v-3.6M288.15 373.4v-3.6M301.51 9.5v3.6M301.51 265.5v-3.6M301.51 373.4v-3.6M314.86 9.5v3.6M314.86 265.5v-3.6M314.86 373.4v-3.6M328.22 9.5v8.0M328.22 265.5v-8.0M328.22 373.4v-8.0M341.58 9.5v3.6M341.58 265.5v-3.6M341.58 373.4v-3.6M354.93 9.5v3.6M354.93 265.5v-3.6M354.93 373.4v-3.6M368.29 9.5v3.6M368.29 265.5v-3.6M368.29 373.4v-3.6M381.64 9.5v3.6M381.64 265.5v-3.6M381.64 373.4v-3.6M395.00 9.5v8.0M395.00 265.5v-8.0M395.00 373.4v-8.0M408.36 9.5v3.6M408.36 265.5v-3.6M408.36 373.4v-3.6M421.71 9.5v3.6M421.71 265.5v-3.6M421.71 373.4v-3.6M435.07 9.5v3.6M435.07 265.5v-3.6M435.07 373.4v-3.6M448.42 9.5v3.6M448.42 265.5v-3.6M448.42 373.4v-3.6M461.78 9.5v8.0M461.78 265.5v-8.0M461.78 373.4v-8.0M60.5 256.00h8.0M60.5 246.14h3.6M60.5 236.28h3.6M60.5 226.42h3.6M60.5 216.56h3.6M60.5 206.70h8.0M60.5 196.84h3.6M60.5 186.98h3.6M60.5 177.12h3.6M60.5 167.26h3.6M60.5 157.40h8.0M60.5 147.54h3.6M60.5 137.68h3.6M60.5 127.82h3.6M60.5 117.96h3.6M60.5 108.10h8.0M60.5 98.24h3.6M60.5 88.38h3.6M60.5 78.52h3.6M60.5 68.66h3.6M60.5 58.80h8.0M60.5 48.94h3.6M60.5 39.08h3.6M60.5 29.22h3.6M60.5 19.36h3.6M60.5 9.50h8.0M60.5 373.14h8.0M60.5 367.11h3.6M60.5 361.08h3.6M60.5 355.05h3.6M60.5 349.02h8.0M60.5 342.99h3.6M60.5 336.96h3.6M60.5 330.93h3.6M60.5 324.90h8.0M60.5 318.87h3.6M60.5 312.84h3.6M60.5 306.81h3.6M60.5 300.78h8.0M60.5 294.75h3.6M60.5 288.72h3.6M60.5 282.69h3.6M60.5 276.66h8.0" stroke="#777777" stroke-width="1.1" fill="none"/>
<path d="M74.46 270.5v3.6M87.81 270.5v3.6M101.17 270.5v3.6M114.52 270.5v3.6M127.88 270.5v8.0M141.24 270.5v3.6M154.59 270.5v3.6M167.95 270.5v3.6M181.30 270.5v3.6M194.66 270.5v8.0M208.02 270.5v3.6M221.37 270.5v3.6M234.73 270.5v3.6M248.08 270.5v3.6M261.44 270.5v8.0M274.80 270.5v3.6M288.15 270.5v3.6M301.51 270.5v3.6M314.86 270.5v3.6M328.22 270.5v8.0M341.58 270.5v3.6M354.93 270.5v3.6M368.29 270.5v3.6M381.64 270.5v3.6M395.00 270.5v8.0M408.36 270.5v3.6M421.71 270.5v3.6M435.07 270.5v3.6M448.42 270.5v3.6M461.78 270.5v8.0M475.5 256.00h-8.0M475.5 246.14h-3.6M475.5 236.28h-3.6M475.5 226.42h-3.6M475.5 216.56h-3.6M475.5 206.70h-8.0M475.5 196.84h-3.6M475.5 186.98h-3.6M475.5 177.12h-3.6M475.5 167.26h-3.6M475.5 157.40h-8.0M475.5 147.54h-3.6M475.5 137.68h-3.6M475.5 127.82h-3.6M475.5 117.96h-3.6M475.5 108.10h-8.0M475.5 98.24h-3.6M475.5 88.38h-3.6M475.5 78.52h-3.6M475.5 68.66h-3.6M475.5 58.80h-8.0M475.5 48.94h-3.6M475.5 39.08h-3.6M475.5 29.22h-3.6M475.5 19.36h-3.6M475.5 9.50h-8.0M475.5 373.14h-8.0M475.5 367.11h-3.6M475.5 361.08h-3.6M475.5 355.05h-3.6M475.5 349.02h-8.0M475.5 342.99h-3.6M475.5 336.96h-3.6M475.5 330.93h-3.6M475.5 324.90h-8.0M475.5 318.87h-3.6M475.5 312.84h-3.6M475.5 306.81h-3.6M475.5 300.78h-8.0M475.5 294.75h-3.6M475.5 288.72h-3.6M475.5 282.69h-3.6M475.5 276.66h-8.0" stroke="#1a1a1a" stroke-width="1.3" fill="none"/>
<text x="58.1" y="263.1" font-family="Liberation Sans, sans-serif" font-size="17.5" fill="#666666" text-anchor="end">0</text>
<text x="58.1" y="213.8" font-family="Liberation Sans, sans-serif" font-size="17.5" fill="#666666" text-anchor="end">0.05</text>
<text x="58.1" y="164.5" font-family="Liberation Sans, sans-serif" font-size="17.5" fill="#666666" text-anchor="end">0.10</text>
<text x="58.1" y="115.2" font-family="Liberation Sans, sans-serif" font-size="17.5" fill="#666666" text-anchor="end">0.15</text>
<text x="58.1" y="65.9" font-family="Liberation Sans, sans-serif" font-size="17.5" fill="#666666" text-anchor="end">0.20</text>
<text x="58.1" y="16.6" font-family="Liberation Sans, sans-serif" font-size="17.5" fill="#666666" text-anchor="end">0.25</text>
<text x="58.1" y="380.2" font-family="Liberation Sans, sans-serif" font-size="17.5" fill="#666666" text-anchor="end">0.6</text>
<text x="58.1" y="356.1" font-family="Liberation Sans, sans-serif" font-size="17.5" fill="#666666" text-anchor="end">0.8</text>
<text x="58.1" y="332.0" font-family="Liberation Sans, sans-serif" font-size="17.5" fill="#666666" text-anchor="end">1.0</text>
<text x="58.1" y="307.9" font-family="Liberation Sans, sans-serif" font-size="17.5" fill="#666666" text-anchor="end">1.2</text>
<text x="58.1" y="283.8" font-family="Liberation Sans, sans-serif" font-size="17.5" fill="#666666" text-anchor="end">1.4</text>
<text x="128.3" y="393.1" font-family="Liberation Sans, sans-serif" font-size="17.5" fill="#666666" text-anchor="middle">0.5</text>
<text x="195.1" y="393.1" font-family="Liberation Sans, sans-serif" font-size="17.5" fill="#666666" text-anchor="middle">1.0</text>
<text x="261.8" y="393.1" font-family="Liberation Sans, sans-serif" font-size="17.5" fill="#666666" text-anchor="middle">1.5</text>
<text x="328.6" y="393.1" font-family="Liberation Sans, sans-serif" font-size="17.5" fill="#666666" text-anchor="middle">2.0</text>
<text x="395.4" y="393.1" font-family="Liberation Sans, sans-serif" font-size="17.5" fill="#666666" text-anchor="middle">2.5</text>
<text x="462.2" y="393.1" font-family="Liberation Sans, sans-serif" font-size="17.5" fill="#666666" text-anchor="middle">3.0</text>
<text transform="translate(14.6,146.8) rotate(-90)" font-family="Liberation Sans, sans-serif" font-size="17.5" fill="#666666"><tspan font-style="italic">V</tspan><tspan font-size="12.5" dy="3.8">2</tspan></text>
<text transform="translate(21.0,355.5) rotate(-90)" font-family="Liberation Sans, sans-serif" font-size="15.6" fill="#666666" textLength="66.3" lengthAdjust="spacingAndGlyphs">fit/hydro</text>
<text x="228" y="418.6" font-family="Liberation Sans, sans-serif" font-size="17.5" fill="#666666"><tspan font-style="italic">P</tspan><tspan font-style="italic" font-size="12" dy="3.5">T</tspan><tspan dy="-3.5" dx="1.5">(GeV/c)</tspan></text>
<circle cx="85.6" cy="31.4" r="3.5" fill="#000"/>
<circle cx="96.3" cy="31.4" r="3.5" fill="#000"/>
<circle cx="106.8" cy="31.4" r="3.5" fill="#000"/>
<text x="117.6" y="36.7" font-family="Liberation Sans, sans-serif" font-size="17.5" fill="#000">MUSIC with resonance decay</text>
<path d="M81 53.8H115.3" stroke="#333" stroke-width="1.5"/>
<text x="121.8" y="58.9" font-family="Liberation Sans, sans-serif" font-size="17.5" fill="#000">Viscous blast wave</text>
<text x="80.4" y="201.5" font-family="Liberation Sans, sans-serif" font-size="17.5" fill="#000" font-style="italic">π</text>
<path d="M93.80 190.00H98.90" stroke="#000" stroke-width="1.3" fill="none"/>
<path d="M101.50 196.80h8.60M105.80 192.50v8.60" stroke="#000" stroke-width="1.4" fill="none"/>
<text x="112.0" y="201.5" font-family="Liberation Sans, sans-serif" font-size="17.5" fill="#000" font-style="italic">π</text>
<path d="M125.30 190.70h5.40M128.00 188.00v5.40" stroke="#000" stroke-width="1.3" fill="none"/>
<text x="212.4" y="196.1" font-family="Liberation Sans, sans-serif" font-size="17.5" fill="#000" font-style="italic">K</text>
<path d="M223.80 185.50H229.10" stroke="#000" stroke-width="1.3" fill="none"/>
<path d="M232.50 191.80h8.60M236.80 187.50v8.60" stroke="#000" stroke-width="1.4" fill="none"/>
<text x="242.6" y="196.1" font-family="Liberation Sans, sans-serif" font-size="17.5" fill="#000" font-style="italic">K</text>
<path d="M255.20 186.40h5.40M257.90 183.70v5.40" stroke="#000" stroke-width="1.3" fill="none"/>
<text x="325.2" y="126.2" font-family="Liberation Sans, sans-serif" font-size="17.5" fill="#000" font-style="italic">P</text>
<path d="M325.00 112.00H336.40" stroke="#000" stroke-width="1.2" fill="none"/>
<path d="M337.40 121.80h8.20M341.50 117.70v8.20" stroke="#000" stroke-width="1.4" fill="none"/>
<text x="347.1" y="126.2" font-family="Liberation Sans, sans-serif" font-size="17.5" fill="#000" font-style="italic">P</text>
<path d="M201.9 178.6L192.3 170.3M197.6 170.2H192.2V175.8" stroke="#222" stroke-width="1.3" fill="none"/>
<path d="M240.70 281.60L244.75 286.00L240.70 290.40L236.65 286.00Z" fill="#0000ff"/>
<text x="256.6" y="292.2" font-family="Liberation Sans, sans-serif" font-size="17.5" fill="#000">proton</text>
<path d="M323.40 283.07H331.20L327.30 289.90Z" fill="#00ff00"/>
<text x="343.7" y="292.2" font-family="Liberation Sans, sans-serif" font-size="17.5" fill="#000">kaon</text>
<path d="M402.10 280.60L403.42 284.38L407.43 284.47L404.24 286.90L405.39 290.73L402.10 288.45L398.81 290.73L399.96 286.90L396.77 284.47L400.78 284.38Z" fill="#ff00ff"/>
<text x="417.6" y="292.2" font-family="Liberation Sans, sans-serif" font-size="17.5" fill="#000">pion</text>
</svg>
</body></html>
